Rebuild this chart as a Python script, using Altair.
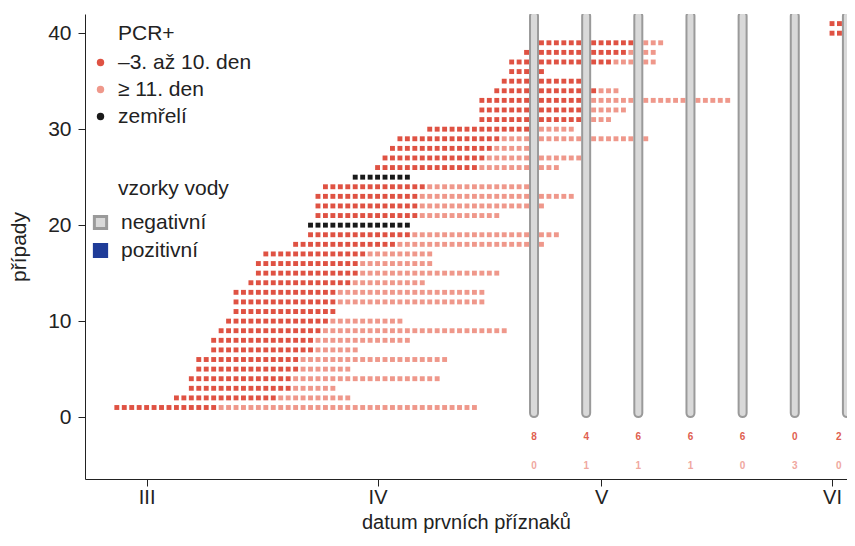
import altair as alt
import pandas as pd

# ---- data (day 0 = 1 March) ----
case_start = [-4, 4, 6, 6, 7, 7, 9, 9, 10, 11, 12, 12, 12, 14, 15, 15, 16, 20, 22, 22,
              23, 23, 23, 24, 28, 31, 32, 33, 34, 38, 45, 45, 45, 47, 48, 49, 49, 51, 53, 92, 92]
case_end = [44, 27, 25, 39, 27, 40, 28, 35, 48, 34, 25, 45, 45, 37, 47, 38, 38, 53, 55, 35,
            47, 53, 57, 51, 35, 55, 58, 51, 67, 57, 62, 64, 78, 63, 58, 53, 68, 68, 69, 96, 96]
died_cases = [20, 25]
red_days = 14  # -3. to 10. day

sample_days = [52, 59, 66, 73, 80, 87, 94]
sample_result = ["negativní"] * 7
count_row1 = ["8", "4", "6", "6", "6", "0", "2"]
count_row2 = ["0", "1", "1", "1", "0", "3", "0"]

tick_days = [0, 31, 61, 92]
tick_labels = ["III", "IV", "V", "VI"]
cat_labels = ["–3. až 10. den", "≥ 11. den", "zemřelí"]
water_labels = ["negativní", "pozitivní"]

rows = []
for i, (s, e) in enumerate(zip(case_start, case_end), start=1):
    for k, d in enumerate(range(s, e + 1)):
        if i in died_cases:
            c = cat_labels[2]
        elif k < red_days:
            c = cat_labels[0]
        else:
            c = cat_labels[1]
        rows.append({"den": d, "pripad": i, "kategorie": c})
dots = pd.DataFrame(rows)
samples = pd.DataFrame({"den": sample_days, "vysledek": sample_result})
counts1 = pd.DataFrame({"den": sample_days, "n": count_row1})
counts2 = pd.DataFrame({"den": sample_days, "n": count_row2})

label_expr = " : ".join(
    f"datum.value == {d} ? '{l}'" for d, l in zip(tick_days, tick_labels)
) + " : ''"

FS = 21
XMAX = 93.34
xscale = alt.Scale(domain=[-7.6, XMAX], nice=False, zero=False)
yscale = alt.Scale(domain=[-6.45, 42], nice=False, zero=False)

xenc = alt.X("den:Q", scale=xscale,
             axis=alt.Axis(values=tick_days, labelExpr=label_expr,
                           title="datum prvních příznaků",
                           titleBaseline="alphabetic", titleY=49, titleFontSize=20,
                           labelFontSize=20, labelPadding=1, tickSize=7))
yenc = alt.Y("pripad:Q", scale=yscale,
             axis=alt.Axis(values=[0, 10, 20, 30, 40], title="případy",
                           titlePadding=18, labelPadding=7, tickSize=7))

points = alt.Chart(dots).mark_square(size=24, opacity=1, clip=True).encode(
    x=xenc,
    y=yenc,
    color=alt.Color("kategorie:N",
                    scale=alt.Scale(domain=cat_labels,
                                    range=["#df5243", "#ef988b", "#1a1a1a"]),
                    legend=alt.Legend(title=None, orient="none", legendX=5, legendY=38,
                                      symbolType="circle", symbolSize=55,
                                      labelFontSize=FS, labelOffset=7, rowPadding=5,
                                      symbolStrokeWidth=0, labelColor="#222222")),
)

water_legend = alt.Legend(title=None, orient="none", legendX=5, legendY=198,
                          symbolType="square", symbolSize=150, symbolStrokeWidth=3,
                          labelFontSize=FS, labelOffset=10, rowPadding=3,
                          labelColor="#222222")

bars = alt.Chart(samples).mark_bar(width=8, cornerRadius=4, strokeWidth=2, clip=True).encode(
    x=alt.X("den:Q", scale=xscale),
    y=alt.datum(42.2),
    y2=alt.datum(0),
    fill=alt.Fill("vysledek:N",
                  scale=alt.Scale(domain=water_labels, range=["#d9d9d9", "#1f3c98"]),
                  legend=water_legend),
    stroke=alt.Stroke("vysledek:N",
                      scale=alt.Scale(domain=water_labels, range=["#9a9a9a", "#1f3c98"]),
                      legend=water_legend),
)

# keep the count labels inside the plot edge
num1 = alt.Chart(counts1).transform_calculate(
    dx="min(datum.den, 92.9)"
).mark_text(fontSize=10, fontWeight="bold", color="#e0604f").encode(
    x=alt.X("dx:Q", scale=xscale), y=alt.datum(-2.1), text="n:N")
num2 = alt.Chart(counts2).transform_calculate(
    dx="min(datum.den, 92.9)"
).mark_text(fontSize=10, fontWeight="bold", color="#f0a8a0").encode(
    x=alt.X("dx:Q", scale=xscale), y=alt.datum(-5.1), text="n:N")

title1 = alt.Chart(pd.DataFrame({"t": ["PCR+"]})).mark_text(
    align="left", baseline="middle", fontSize=FS, color="#222222").encode(
    x=alt.value(33), y=alt.value(20), text="t:N")
title2 = alt.Chart(pd.DataFrame({"t": ["vzorky vody"]})).mark_text(
    align="left", baseline="middle", fontSize=FS, color="#222222").encode(
    x=alt.value(33), y=alt.value(175), text="t:N")

chart = alt.layer(points, bars, num1, num2, title1, title2).resolve_scale(
    color="independent", fill="independent", stroke="independent"
).properties(
    width=762, height=465,
    autosize=alt.AutoSizeParams(type="none"),
    padding={"left": 77, "top": 6, "right": 0, "bottom": 54},
).configure(font="Liberation Sans").configure_view(stroke=None).configure_axis(
    grid=False, labelFontSize=FS, titleFontSize=FS, titleFontWeight="normal",
    labelColor="#222222", titleColor="#222222", domainColor="#222222",
    tickColor="#222222", labelFont="Liberation Sans", titleFont="Liberation Sans",
).configure_legend(labelFont="Liberation Sans", padding=0)

chart.save("out.html", embed_options={"renderer": "svg", "actions": False})
